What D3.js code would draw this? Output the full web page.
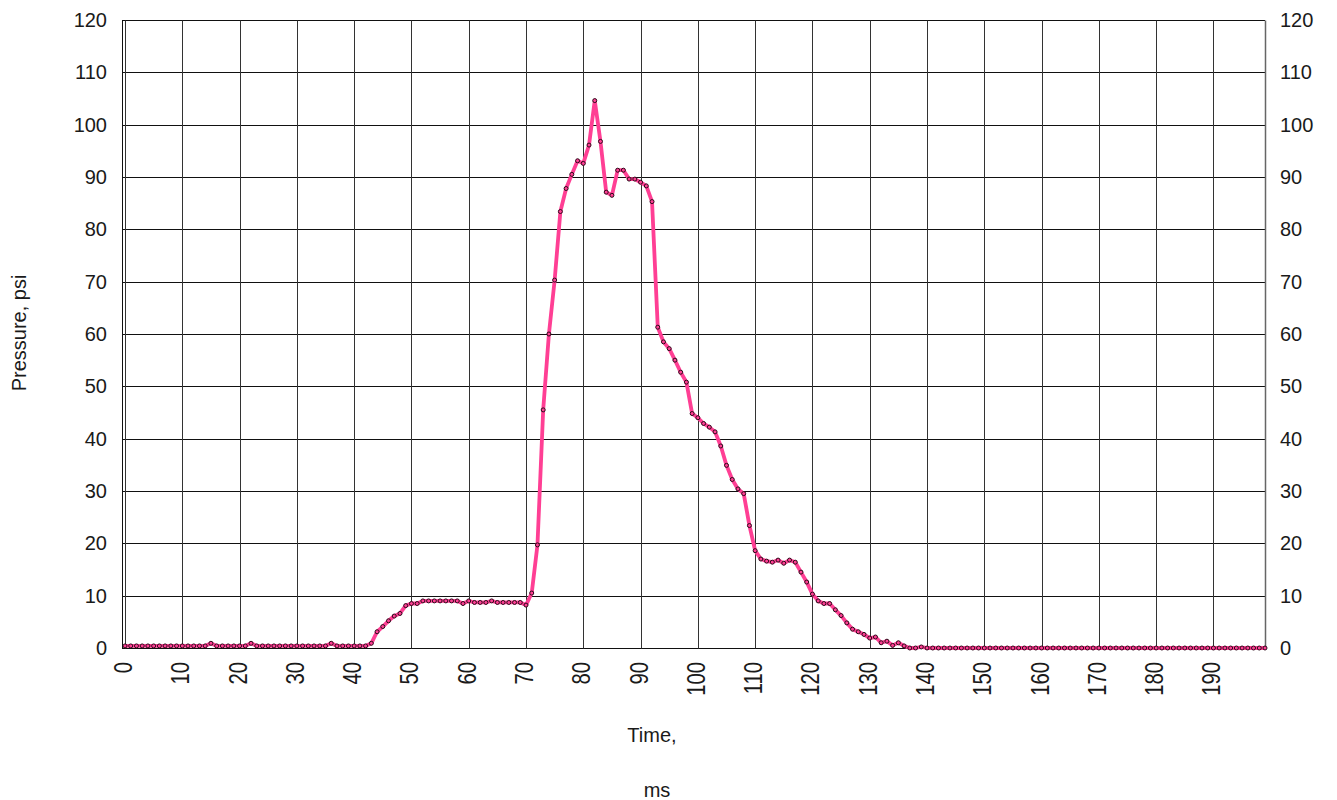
<!DOCTYPE html>
<html>
<head>
<meta charset="utf-8">
<script src="https://cdn.jsdelivr.net/npm/d3@7"></script>
<style>
  html, body { margin: 0; padding: 0; background: #ffffff; }
  svg { display: block; }
  text { font-family: "Liberation Sans", Arial, sans-serif; fill: #1a1a1a; }
</style>
</head>
<body>
<svg id="chart" width="1337" height="800"></svg>
<script>
// Pressure trace sampled every 1 ms (category 0 .. 199)
const pressure = [
  0.4, 0.4, 0.4, 0.4, 0.4, 0.4, 0.4, 0.4, 0.4, 0.4,
  0.4, 0.4, 0.4, 0.4, 0.4, 0.9, 0.4, 0.4, 0.4, 0.4,
  0.4, 0.4, 0.9, 0.4, 0.4, 0.4, 0.4, 0.4, 0.4, 0.4,
  0.4, 0.4, 0.4, 0.4, 0.4, 0.4, 0.9, 0.4, 0.4, 0.4,
  0.4, 0.4, 0.4, 0.9, 3.1, 4.1, 5.2, 6.1, 6.6, 8.1,
  8.5, 8.5, 9.0, 9.0, 9.0, 9.0, 9.0, 9.0, 9.0, 8.5,
  9.0, 8.7, 8.7, 8.7, 9.0, 8.7, 8.7, 8.7, 8.7, 8.7,
  8.2, 10.5, 19.7, 45.5, 60.0, 70.3, 83.4, 87.8, 90.5, 93.1,
  92.6, 96.1, 104.6, 96.8, 87.1, 86.5, 91.3, 91.3, 89.6, 89.6,
  89.0, 88.3, 85.3, 61.3, 58.5, 57.2, 55.0, 52.7, 50.8, 44.8,
  44.0, 42.9, 42.2, 41.3, 38.6, 34.9, 32.2, 30.4, 29.5, 23.4,
  18.6, 17.0, 16.6, 16.4, 16.8, 16.2, 16.8, 16.4, 14.5, 12.6,
  10.3, 9.0, 8.5, 8.5, 7.3, 6.2, 4.8, 3.6, 3.1, 2.6,
  1.9, 2.1, 1.0, 1.3, 0.5, 1.0, 0.4, 0.0, 0.0, 0.2,
  0.0, 0.0, 0.0, 0.0, 0.0, 0.0, 0.0, 0.0, 0.0, 0.0,
  0.0, 0.0, 0.0, 0.0, 0.0, 0.0, 0.0, 0.0, 0.0, 0.0,
  0.0, 0.0, 0.0, 0.0, 0.0, 0.0, 0.0, 0.0, 0.0, 0.0,
  0.0, 0.0, 0.0, 0.0, 0.0, 0.0, 0.0, 0.0, 0.0, 0.0,
  0.0, 0.0, 0.0, 0.0, 0.0, 0.0, 0.0, 0.0, 0.0, 0.0,
  0.0, 0.0, 0.0, 0.0, 0.0, 0.0, 0.0, 0.0, 0.0, 0.0
];
const timeTicks = [0, 10, 20, 30, 40, 50, 60, 70, 80, 90, 100, 110, 120, 130, 140, 150, 160, 170, 180, 190];
const pressureTicks = [0, 10, 20, 30, 40, 50, 60, 70, 80, 90, 100, 110, 120];
const yTitle = "Pressure, psi";
const xTitleLines = ["Time,", "ms"];

const svg = d3.select("#chart");
const plot = { left: 125, right: 1265, top: 20, bottom: 648 };
const lineColor = "#ff3f94";

const x = d3.scaleLinear().domain([0, pressure.length - 1]).range([plot.left, plot.right]);
const y = d3.scaleLinear().domain([0, 120]).range([plot.bottom, plot.top]);
// snap a coordinate to the pixel centre so 1px lines stay sharp
const px = v => Math.round(v) + 0.5;

// Horizontal gridlines
svg.append("g").selectAll("line").data(pressureTicks).join("line")
  .attr("x1", plot.left - 3).attr("x2", plot.right)
  .attr("y1", d => px(y(d))).attr("y2", d => px(y(d)))
  .attr("stroke", "#111").attr("stroke-width", 1);

// Vertical gridlines at each labelled category
svg.append("g").selectAll("line").data(timeTicks).join("line")
  .attr("x1", d => px(x(d))).attr("x2", d => px(x(d)))
  .attr("y1", px(plot.top)).attr("y2", px(plot.bottom))
  .attr("stroke", "#333").attr("stroke-width", 1);

// Left axis line (double) and right border
svg.append("line").attr("x1", px(plot.left - 3)).attr("x2", px(plot.left - 3))
  .attr("y1", px(plot.top)).attr("y2", px(plot.bottom))
  .attr("stroke", "#111").attr("stroke-width", 1);
svg.append("line").attr("x1", px(plot.right)).attr("x2", px(plot.right))
  .attr("y1", px(plot.top)).attr("y2", px(plot.bottom))
  .attr("stroke", "#666").attr("stroke-width", 1.5);

// Y tick labels on both sides
const yLabels = svg.append("g");
yLabels.selectAll("text.left").data(pressureTicks).join("text")
  .attr("class", "left")
  .attr("x", 107).attr("y", d => y(d) + 7)
  .attr("text-anchor", "end").attr("font-size", 20)
  .text(d => d);
yLabels.selectAll("text.right").data(pressureTicks).join("text")
  .attr("class", "right")
  .attr("x", 1280).attr("y", d => y(d) + 7)
  .attr("text-anchor", "start").attr("font-size", 20)
  .text(d => d);

// X tick labels, rotated
svg.append("g").selectAll("text").data(timeTicks).join("text")
  .attr("transform", d => `translate(${x(d) + 7},662) rotate(-90) scale(0.78,1)`)
  .attr("text-anchor", "end").attr("font-size", 26)
  .text(d => d);

// Axis titles
svg.append("text")
  .attr("transform", "translate(26,333) rotate(-90)")
  .attr("text-anchor", "middle").attr("font-size", 20)
  .text(yTitle);
svg.append("text").attr("x", 652).attr("y", 742)
  .attr("text-anchor", "middle").attr("font-size", 20).text(xTitleLines[0]);
svg.append("text").attr("x", 657).attr("y", 797)
  .attr("text-anchor", "middle").attr("font-size", 20).text(xTitleLines[1]);

// Pressure line
const line = d3.line().x((d, i) => x(i)).y(d => y(d));
svg.append("path").datum(pressure)
  .attr("d", line)
  .attr("fill", "none").attr("stroke", lineColor)
  .attr("stroke-width", 3.8).attr("stroke-linejoin", "round");

// Sample markers
svg.append("g").selectAll("circle").data(pressure).join("circle")
  .attr("cx", (d, i) => x(i)).attr("cy", d => y(d))
  .attr("r", 2)
  .attr("fill", lineColor).attr("stroke", "#2a0a18").attr("stroke-width", 1);
</script>
</body>
</html>
